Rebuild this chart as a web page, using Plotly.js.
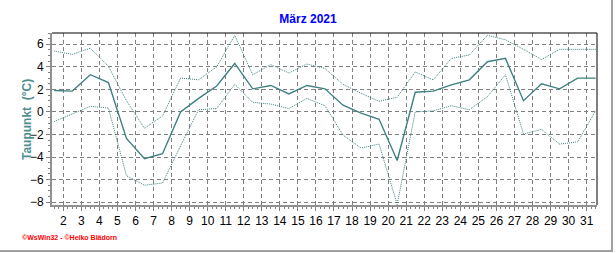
<!DOCTYPE html>
<html>
<head>
<meta charset="utf-8">
<script src="https://cdn.plot.ly/plotly-3.0.1.min.js"></script>
<style>
  html, body { margin: 0; padding: 0; background: #ffffff; }
  #wrap { position: relative; width: 616px; height: 253px; }
  #chart { position: absolute; left: 0; top: 0; width: 616px; height: 253px; }
  #frame { position: absolute; left: 0; top: 0; width: 611px; height: 250px;
           border-right: 2px solid #a0a0a0; border-bottom: 2px solid #a0a0a0; pointer-events: none; }
</style>
</head>
<body>
<div id="wrap"><div id="chart"></div><div id="frame"></div></div>
<script>
// Daily dew point, March 2021 (°C)
const days = [1,2,3,4,5,6,7,8,9,10,11,12,13,14,15,16,17,18,19,20,21,22,23,24,25,26,27,28,29,30,31];
const dewMean = [1.9, 1.85, 3.3, 2.6, -2.35, -4.15, -3.7, 0.0, 1.2, 2.3, 4.3, 2.05, 2.35, 1.6, 2.35, 2.05, 0.6, -0.1, -0.65, -4.3, 1.75, 1.85, 2.4, 2.85, 4.45, 4.75, 1.0, 2.5, 2.05, 3.0, 3.0];
const dewMax  = [5.4, 5.1, 5.65, 4.05, 1.0, -1.45, -0.35, 3.0, 2.85, 4.0, 6.8, 3.3, 4.2, 3.45, 4.25, 3.85, 2.45, 1.65, 0.95, 1.3, 3.55, 2.85, 4.75, 5.05, 6.8, 6.4, 5.55, 4.65, 5.55, 5.55, 5.55];
const dewMin  = [-0.85, -0.2, 0.5, 0.35, -5.65, -6.5, -6.3, -3.0, 0.2, 0.3, 2.45, 0.85, 0.7, 0.3, 1.2, 0.55, -2.05, -3.2, -2.85, -8.2, 0.0, 0.1, 0.55, 0.2, 1.35, 3.3, -1.95, -1.55, -2.85, -2.65, 0.1];
const yTicks = [-8, -6, -4, -2, 0, 2, 4, 6];

// each daily value is stamped at noon of its day
const xs = days.map(d => '2021-03-' + String(d).padStart(2, '0') + ' 12:00');

const lineColor = '#3f8080';
const traces = [
  { x: xs, y: dewMax, mode: 'lines', line: { color: lineColor, width: 1, dash: '1px,1px' }, hoverinfo: 'skip' },
  { x: xs, y: dewMin, mode: 'lines', line: { color: lineColor, width: 1, dash: '1px,1px' }, hoverinfo: 'skip' },
  { x: xs, y: dewMean, mode: 'lines', line: { color: lineColor, width: 1.4 }, hoverinfo: 'skip' }
];

const font = { family: 'Liberation Sans, Arial, sans-serif', size: 12, color: '#000000' };

const layout = {
  width: 616, height: 253,
  margin: { l: 52, r: 19, t: 33, b: 48, pad: 0 },
  paper_bgcolor: '#ffffff', plot_bgcolor: '#ffffff',
  showlegend: false,
  font: font,
  title: {
    text: '<b>März 2021</b>',
    font: { family: 'Liberation Sans, Arial, sans-serif', size: 12, color: '#0000ff' },
    xref: 'container', x: 0.5, xanchor: 'center',
    yref: 'container', y: 1 - 19 / 253, yanchor: 'middle'
  },
  xaxis: {
    type: 'date',
    range: ['2021-03-01 09:00', '2021-03-31 13:45'],
    tick0: '2021-03-02', dtick: 86400000,
    tickformat: '%-d',
    ticks: 'outside', ticklen: 4, tickcolor: '#808080',
    showgrid: true, gridcolor: '#808080', griddash: '4px,3px', gridwidth: 1,
    minor: { dtick: 21600000, ticklen: 2, tickcolor: '#808080', showgrid: false, ticks: 'outside' },
    showline: true, linecolor: '#909090', linewidth: 2,
    zeroline: false, fixedrange: true,
    tickfont: font
  },
  yaxis: {
    range: [-8.25, 7.0],
    tickvals: yTicks,
    ticks: 'outside', ticklen: 4, tickcolor: '#808080',
    showgrid: true, gridcolor: '#808080', griddash: '4px,3px', gridwidth: 1,
    minor: { dtick: 0.5, ticklen: 2, tickcolor: '#808080', showgrid: false, ticks: 'outside' },
    showline: true, linecolor: '#909090', linewidth: 2,
    zeroline: false, fixedrange: true,
    tickfont: font
  },
  shapes: [
    { type: 'line', xref: 'paper', yref: 'paper', x0: 0, x1: 1, y0: 1, y1: 1, line: { color: '#000000', width: 1 } },
    { type: 'line', xref: 'paper', yref: 'paper', x0: 1, x1: 1, y0: 0, y1: 1, line: { color: '#000000', width: 1 } }
  ],
  annotations: [
    { text: '<b>Taupunkt  (°C)</b>', xref: 'paper', yref: 'paper',
      x: -25 / 545, y: 85 / 172, xanchor: 'center', yanchor: 'middle', textangle: -90, showarrow: false,
      font: { family: 'Liberation Sans, Arial, sans-serif', size: 12, color: '#4f8f8f' } },
    { text: '<b>©WsWin32 - ©Heiko Blädorn</b>', xref: 'paper', yref: 'paper',
      x: -32 / 545, y: -33 / 172, xanchor: 'left', yanchor: 'middle', showarrow: false,
      font: { family: 'Liberation Sans, Arial, sans-serif', size: 7, color: '#ff0000' } }
  ]
};

Plotly.newPlot('chart', traces, layout, { displayModeBar: false, staticPlot: true });
</script>
</body>
</html>
